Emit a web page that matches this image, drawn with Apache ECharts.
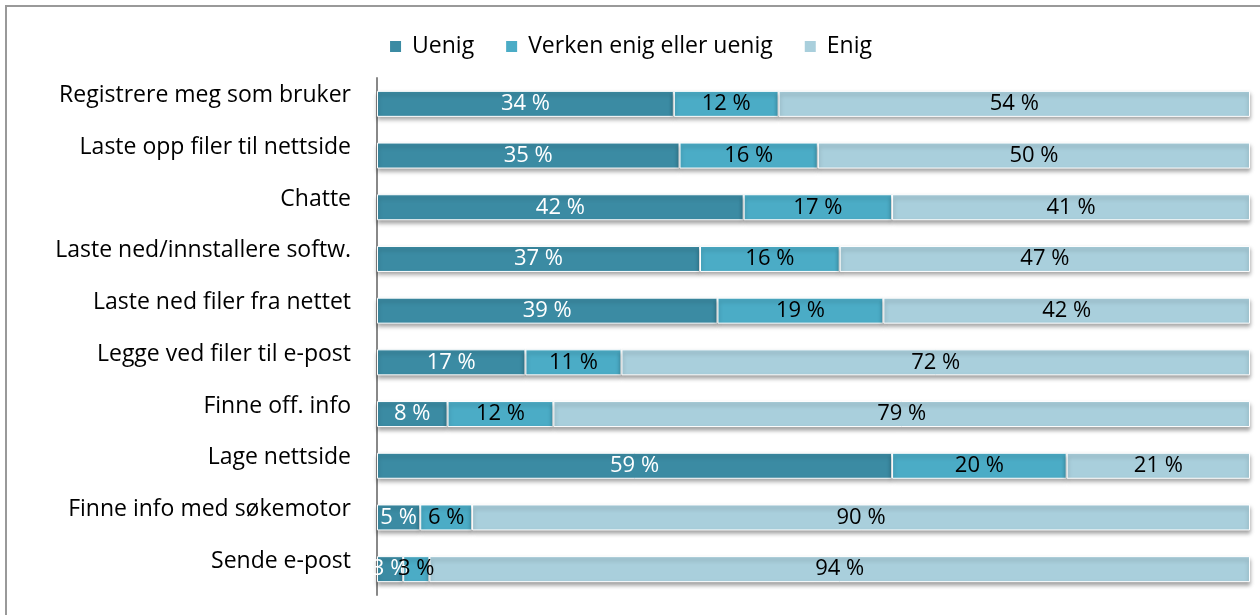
<!DOCTYPE html>
<html>
<head>
<meta charset="utf-8">
<script src="https://cdn.jsdelivr.net/npm/echarts@6/dist/echarts.min.js"></script>
<style>
  html, body { margin: 0; padding: 0; background: #fff; }
  #chart { width: 1260px; height: 615px; }
</style>
</head>
<body>
<div id="chart"></div>
<script>
var categories = ['Registrere meg som bruker', 'Laste opp filer til nettside', 'Chatte',
    'Laste ned/innstallere softw.', 'Laste ned filer fra nettet', 'Legge ved filer til e-post',
    'Finne off. info', 'Lage nettside', 'Finne info med søkemotor', 'Sende e-post'];
var uenig = [34, 35, 42, 37, 39, 17, 8, 59, 5, 3];
var verken = [12, 16, 17, 16, 19, 11, 12, 20, 6, 3];
var enig = [54, 50, 41, 47, 42, 72, 79, 21, 90, 94];

// 100 % stacked: every row fills the axis, labels keep the read value
function share(list) {
    return list.map(function (v, i) {
        var total = uenig[i] + verken[i] + enig[i];
        return { value: v / total * 100, raw: v };
    });
}

var chart = echarts.init(document.getElementById('chart'));

function makeSeries(name, list, color, labelColor) {
    return {
        name: name,
        type: 'bar',
        stack: 'total',
        barWidth: 26,
        data: share(list),
        itemStyle: {
            color: color,
            borderColor: '#ffffff',
            borderWidth: 1,
            shadowBlur: 4,
            shadowOffsetY: 3,
            shadowColor: 'rgba(0, 0, 0, 0.35)'
        },
        label: {
            show: true,
            position: 'inside',
            color: labelColor,
            fontFamily: 'Open Sans',
            fontSize: 22,
            formatter: function (p) { return p.data.raw + ' %'; }
        }
    };
}

chart.setOption({
    animation: false,
    backgroundColor: '#ffffff',
    graphic: [{
        type: 'rect',
        shape: { x: 6, y: 6, width: 1300, height: 700 },
        style: { fill: 'none', stroke: '#999999', lineWidth: 2 }
    }],
    legend: {
        top: 30,
        left: 'center',
        itemWidth: 13,
        itemHeight: 13,
        itemGap: 30,
        icon: 'rect',
        textStyle: { fontFamily: 'Open Sans', fontSize: 23, color: '#000', padding: [0, 0, 0, 5] },
        data: ['Uenig', 'Verken enig eller uenig', 'Enig']
    },
    grid: { left: 377, right: 10, top: 78, bottom: 20 },
    xAxis: {
        type: 'value',
        min: 0,
        max: 100,
        show: false
    },
    yAxis: {
        type: 'category',
        inverse: true,
        data: categories,
        axisLine: { show: true, lineStyle: { color: '#888888', width: 2 } },
        axisTick: { show: false },
        axisLabel: {
            margin: 26,
            fontFamily: 'Open Sans',
            fontSize: 23,
            color: '#000',
            verticalAlign: 'bottom',
            lineHeight: 16
        }
    },
    series: [
        makeSeries('Uenig', uenig, '#3b8ba3', '#ffffff'),
        makeSeries('Verken enig eller uenig', verken, '#4bacc6', '#000000'),
        makeSeries('Enig', enig, '#a9cfdc', '#000000')
    ]
});
</script>
</body>
</html>
